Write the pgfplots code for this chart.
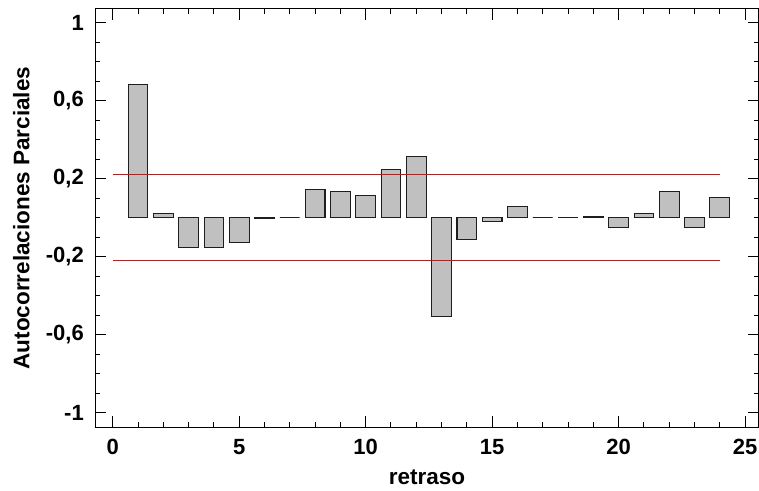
\documentclass[border=0pt]{standalone}
\usepackage{pgfplots}
\pgfplotsset{compat=1.18}
\usepackage{fontspec}
\setmainfont{Liberation Sans}
\definecolor{bargray}{RGB}{192,192,192}
\definecolor{baredge}{RGB}{30,30,30}
\begin{document}
\begin{tikzpicture}
\begin{axis}[
  scale only axis,
  width=663pt, height=418.6pt,
  xmin=-0.69, xmax=25.53,
  ymin=-1.076, ymax=1.071,
  axis line style={line width=1.1pt, black},
  tick align=inside,
  xtick={0,5,10,15,20,25},
  xticklabels={0,5,10,15,20,25},
  ytick={-1,-0.6,-0.2,0.2,0.6,1},
  yticklabels={-1,{-0,6},{-0,2},{0,2},{0,6},1},
  minor x tick num=4,
  minor y tick num=3,
  major tick length=11pt,
  minor tick length=5pt,
  every tick/.style={black, line width=1pt},
  tick label style={font=\bfseries\fontsize{22}{22}\selectfont},
  xticklabel style={anchor=center, yshift=-19.5pt},
  yticklabel style={anchor=east, xshift=-8pt},
  xlabel={\bfseries retraso},
  ylabel={\bfseries Autocorrelaciones Parciales},
  xlabel style={at={(rel axis cs:0.5,0)}, anchor=base, yshift=-57pt, font=\bfseries\fontsize{22.5}{22.5}\selectfont},
  every axis y label/.style={at={(rel axis cs:0,0.5)}, rotate=90, anchor=base, yshift=66pt, font=\bfseries\fontsize{22.5}{22.5}\selectfont},
  clip=false,
]
\addplot[ybar, bar width=0.78, bar shift=0pt, fill=bargray, draw=baredge, line width=1.1pt]
coordinates {
(1,0.684) (2,0.022) (3,-0.154) (4,-0.154) (5,-0.128) (6,-0.006)
(7,0) (8,0.145) (9,0.132) (10,0.111) (11,0.248) (12,0.313)
(13,-0.508) (14,-0.114) (15,-0.019) (16,0.055) (17,0) (18,0)
(19,0.005) (20,-0.053) (21,0.022) (22,0.132) (23,-0.053) (24,0.101)
};
\addplot[red, line width=1.2pt] coordinates {(0,0.22) (24,0.22)};
\addplot[red, line width=1.2pt] coordinates {(0,-0.22) (24,-0.22)};
\coordinate (sw) at (rel axis cs:0,0);
\coordinate (ne) at (rel axis cs:1,1);
\end{axis}
\pgfresetboundingbox
\useasboundingbox ([shift={(-95.3pt,-62.7pt)}]sw) rectangle ([shift={(0.5pt,8.7pt)}]ne);
\end{tikzpicture}
\end{document}
